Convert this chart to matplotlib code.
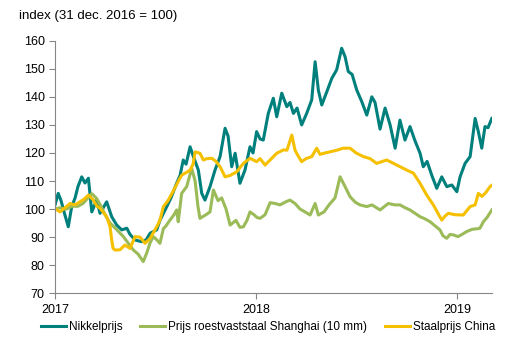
import matplotlib.pyplot as plt

plt.rcParams['font.family'] = ['Liberation Sans', 'DejaVu Sans']

# tijd in jaren sinds 1 jan 2017
nikkel_t = [0.000, 0.016, 0.030, 0.045, 0.066, 0.083, 0.100, 0.114, 0.133, 0.149,
            0.166, 0.183, 0.207, 0.224, 0.257, 0.282, 0.307, 0.332, 0.357, 0.373,
            0.398, 0.431, 0.453, 0.473, 0.506, 0.522, 0.556, 0.577, 0.605, 0.622,
            0.638, 0.652, 0.672, 0.687, 0.713, 0.730, 0.746, 0.771, 0.796, 0.821,
            0.846, 0.861, 0.879, 0.896, 0.920, 0.945, 0.970, 0.985, 1.003, 1.020,
            1.036, 1.061, 1.086, 1.103, 1.128, 1.153, 1.169, 1.186, 1.204, 1.227,
            1.252, 1.277, 1.294, 1.310, 1.327, 1.352, 1.377, 1.401, 1.426, 1.443,
            1.459, 1.478, 1.501, 1.526, 1.551, 1.576, 1.592, 1.617, 1.642, 1.667,
            1.692, 1.716, 1.741, 1.766, 1.791, 1.816, 1.832, 1.851, 1.874, 1.899,
            1.924, 1.949, 1.974, 1.999, 2.015, 2.040, 2.065, 2.090, 2.106, 2.123,
            2.139, 2.154, 2.173]
nikkel = [101.5, 105.6, 103, 99, 93.7, 100.9, 104, 108, 111.5, 109.3,
          111, 99, 103.2, 98.5, 102.6, 97.3, 94.3, 92.6, 93.2, 91,
          89, 88.4, 89, 91.4, 92.6, 96, 100.9, 104, 109.2, 112,
          117.5, 116, 122.2, 119, 113.9, 105.6, 103.2, 108, 113.9, 118.7,
          128.8, 126, 115.1, 119.9, 109.2, 113.9, 122.2, 120, 127.6, 125,
          124.6, 134.1, 139.5, 132.9, 141.3, 136.5, 138, 134.1, 136, 130,
          134.1, 138.9, 152.5, 142.4, 137.1, 141.8, 146.6, 149.6, 157.3, 154.3,
          149, 148, 142.4, 138.3, 133.5, 140, 138, 128.5, 136, 130,
          121.7, 131.7, 124.6, 129.4, 124.3, 119.9, 115.1, 117, 112.1, 107.4,
          111.5, 108, 108.6, 106.2, 111.5, 116.3, 118.7, 132.3, 127.6, 121.7,
          129.4, 129, 132.3]

rvs_t = [0.000, 0.025, 0.055, 0.085, 0.114, 0.139, 0.164, 0.183, 0.207, 0.229,
         0.249, 0.274, 0.303, 0.340, 0.363, 0.390, 0.413, 0.439, 0.456, 0.473,
         0.489, 0.507, 0.522, 0.539, 0.552, 0.572, 0.592, 0.605, 0.613, 0.630,
         0.655, 0.680, 0.697, 0.711, 0.721, 0.751, 0.771, 0.788, 0.811, 0.829,
         0.851, 0.871, 0.900, 0.920, 0.937, 0.955, 0.970, 0.990, 1.005, 1.020,
         1.045, 1.070, 1.095, 1.119, 1.154, 1.169, 1.194, 1.219, 1.244, 1.269,
         1.294, 1.310, 1.338, 1.363, 1.393, 1.418, 1.443, 1.468, 1.493, 1.517,
         1.551, 1.577, 1.617, 1.658, 1.692, 1.716, 1.741, 1.766, 1.791, 1.816,
         1.841, 1.866, 1.891, 1.915, 1.930, 1.949, 1.965, 1.982, 2.005, 2.025,
         2.048, 2.075, 2.100, 2.114, 2.131, 2.149, 2.173]
rvs = [100, 100.5, 100, 101, 101, 102, 104, 105.5, 103.8, 101,
       98, 95, 93, 90.2, 88, 85.4, 84, 81.3, 84.3, 88,
       90.2, 89, 87.8, 93, 94, 96.1, 98, 99.7, 95.5, 105.6,
       108, 114.5, 110, 101, 96.7, 98, 99, 106.8, 103, 104,
       100, 94.3, 96, 93.5, 93.7, 96, 99, 98, 97, 96.7,
       98, 102.3, 102, 101.5, 102.8, 103.2, 102, 100, 99, 97.9,
       102, 97.9, 99, 101.5, 104, 111.5, 108, 104.4, 102.5, 101.5,
       100.9, 101.5, 99.7, 102, 101.5, 101.5, 100.5, 99.7, 98.5, 97.3,
       96.5, 95.5, 94, 92.6, 90.5, 89.6, 91, 90.8, 90.2, 91,
       92, 92.8, 93, 93.2, 95.5, 97, 99.7]

staal_t = [0.000, 0.015, 0.025, 0.050, 0.075, 0.100, 0.124, 0.144, 0.166, 0.191,
           0.209, 0.224, 0.244, 0.257, 0.274, 0.282, 0.289, 0.299, 0.323, 0.348,
           0.373, 0.398, 0.423, 0.448, 0.473, 0.506, 0.522, 0.539, 0.562, 0.591,
           0.614, 0.630, 0.652, 0.672, 0.687, 0.697, 0.721, 0.738, 0.756, 0.780,
           0.801, 0.821, 0.846, 0.871, 0.904, 0.937, 0.970, 1.003, 1.020, 1.045,
           1.070, 1.103, 1.136, 1.154, 1.178, 1.194, 1.209, 1.227, 1.249, 1.277,
           1.302, 1.318, 1.343, 1.368, 1.403, 1.433, 1.468, 1.498, 1.534, 1.567,
           1.600, 1.650, 1.700, 1.750, 1.783, 1.816, 1.849, 1.882, 1.905, 1.924,
           1.940, 1.957, 1.990, 2.031, 2.065, 2.090, 2.106, 2.124, 2.144, 2.164,
           2.173]
staal = [100, 99.5, 99, 100.5, 102, 101.5, 102.6, 103.5, 105, 103.2,
         101, 100.3, 98.5, 97.3, 93.7, 89, 86, 85.4, 85.5, 87.2,
         86, 90.2, 90, 87.8, 89.6, 93.7, 96, 100.9, 103, 106.8,
         110, 112.1, 113, 113.9, 116, 120.4, 119.9, 117.5, 118, 118.1,
         117, 115.1, 111.5, 112, 113.3, 116.3, 118.1, 116.9, 118, 115.7,
         117.5, 119.9, 121.1, 121, 126.4, 121, 119, 116.9, 118, 118.7,
         121.7, 119.5, 120, 120.4, 121, 121.7, 121.7, 120, 118.7, 118,
         116.3, 117.5, 115.7, 113.9, 112.8, 109.2, 105, 101.5, 98.5, 96.1,
         97.5, 98.5, 98, 97.9, 100.9, 101.5, 105.6, 104.5, 106, 108,
         108.5]

year_ticks = [0, 1, 2]
year_labels = ['2017', '2018', '2019']

fig = plt.figure(figsize=(5.31, 3.58), dpi=100)
ax = fig.add_axes([0.1036, 0.1807, 0.823, 0.7056])

ax.plot(nikkel_t, nikkel, color='#00807C', lw=2.2, label='Nikkelprijs')
ax.plot(rvs_t, rvs, color='#9BBB59', lw=2.2,
        label='Prijs roestvaststaal Shanghai (10 mm)')
ax.plot(staal_t, staal, color='#F5C000', lw=2.2, label='Staalprijs China')

ax.set_xlim(0, 2.174)
ax.set_ylim(70, 160)
ax.set_yticks(range(70, 161, 10))
ax.set_xticks(year_ticks)
ax.set_xticklabels(year_labels)

for s in ['top', 'right']:
    ax.spines[s].set_visible(False)
for s in ['left', 'bottom']:
    ax.spines[s].set_color('#868686')
    ax.spines[s].set_linewidth(0.8)
ax.tick_params(axis='both', colors='#868686', labelcolor='black',
               labelsize=9, length=4, width=0.8)

fig.text(0.036, 0.955, 'index (31 dec. 2016 = 100)', fontsize=9.5,
         va='center', ha='left')

fig.legend(loc='center', bbox_to_anchor=(0.505, 0.087), ncol=3, frameon=False,
           fontsize=8.5, handlelength=2.1, handletextpad=0.25, columnspacing=1.5,
           borderaxespad=0)

fig.savefig('out.png', dpi=100)
